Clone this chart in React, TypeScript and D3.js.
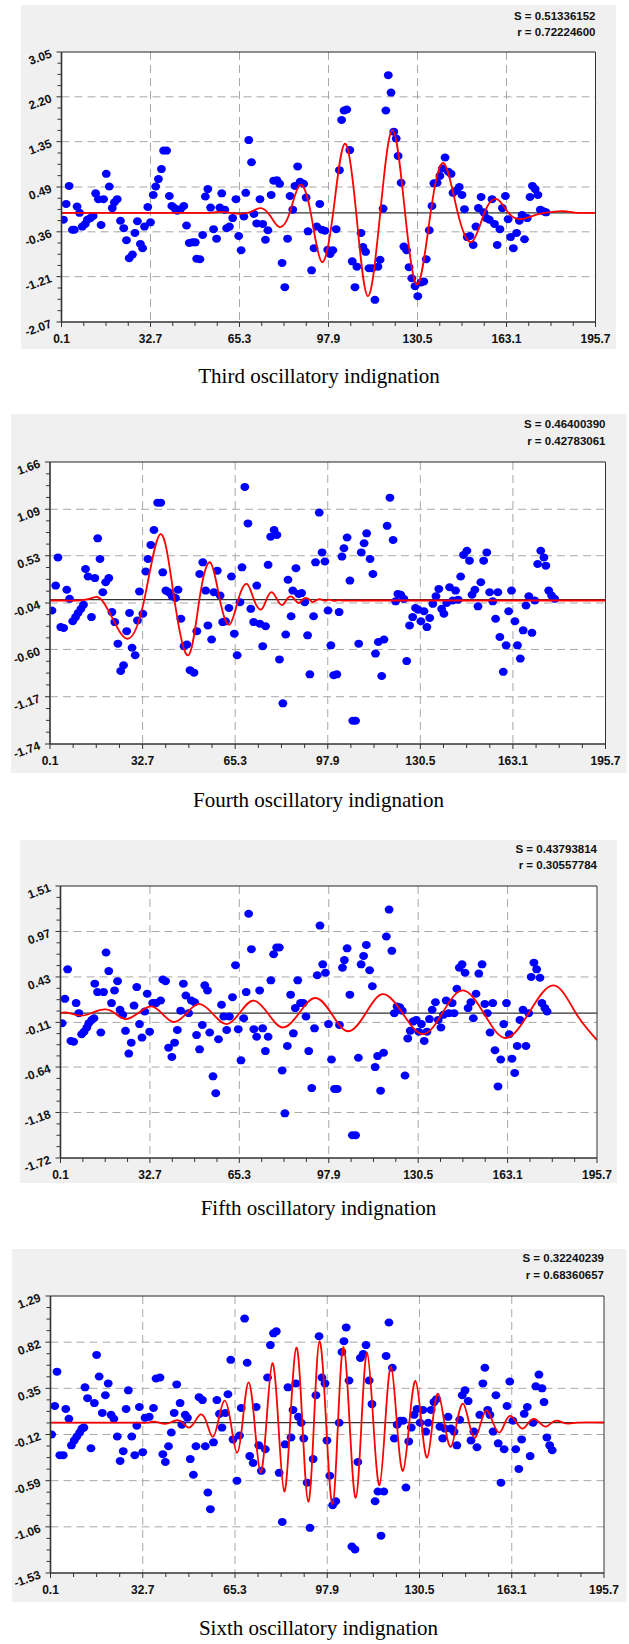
import React from "react";
import * as d3 from "d3";

type Pt = [number, number];

const X_TICKS = ["0.1", "32.7", "65.3", "97.9", "130.5", "163.1", "195.7"];

// ---------- Panel 1 : Third oscillatory indignation ----------
const P1_CAPTION = "Third oscillatory indignation";
const P1_S = "0.51336152";
const P1_R = "0.72224600";
const P1_YTICKS = ["3.05", "2.20", "1.35", "0.49", "-0.36", "-1.21", "-2.07"];
const P1_POINTS: Pt[] = [
  [0.8,-0.13],[1.8,0.17],[2.9,0.51],[4.1,-0.32],[4.8,-0.32],[5.8,0.12],[6.7,0.0],[7.7,-0.26],[8.8,-0.21],[9.6,-0.13],
  [10.7,-0.10],[11.7,-0.06],[12.6,0.37],[13.6,0.26],[14.6,-0.23],[15.5,0.26],[16.5,0.74],[17.6,0.50],[18.7,0.09],[19.5,0.20],
  [20.5,0.26],[21.7,-0.15],[22.9,-0.29],[23.9,-0.52],[24.9,-0.86],[26.1,-0.79],[27.0,-0.38],[27.9,-0.16],[29.0,-0.59],[29.8,-0.67],
  [30.5,-0.26],[31.7,0.11],[32.7,-0.18],[33.7,0.34],[34.6,0.50],[35.6,0.64],[36.7,0.83],[37.5,1.18],[38.6,1.18],[39.6,0.32],
  [40.5,0.13],[41.5,0.09],[42.5,0.04],[43.7,0.07],[44.9,0.13],[45.9,-0.24],[46.9,-0.57],[48.1,-0.56],[49.1,-0.56],[49.6,-0.87],
  [50.8,-0.88],[51.8,-0.42],[52.8,0.31],[53.7,0.45],[54.7,0.10],[55.8,-0.31],[56.9,-0.49],[58.1,0.10],[58.8,0.37],[59.9,0.06],
  [60.6,-0.29],[61.6,-0.26],[62.8,-0.10],[64.0,0.26],[65.0,-0.44],[65.9,-0.71],[66.9,-0.07],[67.6,0.38],[68.7,1.38],[69.7,0.96],
  [70.6,-0.02],[71.6,-0.20],[72.8,0.26],[73.8,-0.21],[74.8,-0.51],[75.7,-0.33],[76.9,0.34],[77.8,0.61],[79.0,0.62],[80.0,0.55],
  [80.9,-0.95],[81.9,-1.41],[82.9,-0.49],[83.8,0.32],[84.8,0.06],[85.6,0.51],[86.6,0.88],[87.5,0.59],[88.8,0.55],[89.7,0.29],
  [90.4,-0.35],[91.7,-1.09],[92.6,-0.67],[93.6,-0.26],[94.7,0.17],[95.5,-0.32],[96.6,-0.34],[97.6,-0.70],[98.5,-0.78],[99.5,-0.71],
  [100.7,-0.31],[101.9,0.81],[102.7,1.76],[103.6,1.94],[104.6,1.96],[105.7,1.19],[106.6,-0.92],[107.6,-1.41],[108.3,-1.02],[109.8,-0.38],
  [110.5,-0.65],[111.5,-0.74],[112.7,-1.05],[113.9,-1.05],[114.9,-1.65],[116.0,-1.02],[116.8,-0.89],[117.9,0.08],[118.9,1.94],[119.8,2.61],
  [120.8,2.28],[121.8,1.54],[122.7,1.41],[123.4,1.08],[124.5,0.57],[125.5,-0.64],[126.5,-0.71],[127.4,-1.03],[128.4,-1.24],[129.6,-1.39],
  [130.6,-1.58],[131.8,-1.32],[132.8,-1.30],[133.7,-0.88],[134.8,-0.33],[135.8,0.13],[136.5,0.56],[137.7,0.57],[138.7,0.70],[139.6,0.84],
  [140.6,1.05],[141.8,0.78],[142.8,0.74],[143.5,0.38],[144.7,0.42],[145.8,0.49],[146.8,0.34],[147.7,0.07],[148.7,-0.46],[149.7,-0.44],
  [150.9,-0.61],[151.9,-0.26],[152.8,0.09],[153.8,0.30],[154.8,0.01],[155.7,-0.10],[156.8,-0.13],[157.8,0.26],[158.7,-0.21],[159.7,-0.61],
  [160.7,-0.31],[161.6,0.09],[162.7,0.32],[163.7,-0.12],[164.6,-0.46],[165.6,-0.67],[166.8,-0.38],[167.8,-0.15],[168.8,-0.04],[169.7,-0.50],
  [170.7,-0.10],[171.7,0.30],[172.6,0.51],[173.6,0.45],[174.6,0.34],[175.5,0.06],[176.6,0.03],[177.6,0.01]
];
const P1_CURVE: Pt[] = [
  [0.1,0],[15,0],[30,0],[45,0],[52,0],[55.5,0.005],[58.5,0.02],[62,0],[65.5,-0.02],[69.5,0.02],[73.1,0.09],[76.6,-0.06],
  [80.0,-0.27],[83.7,0.0],[87.4,0.53],[91.4,0.0],[95.4,-0.93],[99.6,0.0],[103.8,1.31],[108.05,0.0],[112.3,-1.58],[116.85,0.0],
  [121.4,1.57],[125.95,0.0],[130.5,-1.36],[135.3,0.0],[140.1,0.94],[145.25,0.0],[150.4,-0.55],[155.0,0.0],[159.6,0.26],[163.8,0.0],
  [168.0,-0.12],[172,-0.07],[176,-0.01],[180,0.02],[184,0.03],[188,0.005],[192,0],[195.7,0]
];

// ---------- Panel 2 : Fourth oscillatory indignation ----------
const P2_CAPTION = "Fourth oscillatory indignation";
const P2_S = "0.46400390";
const P2_R = "0.42783061";
const P2_YTICKS = ["1.66", "1.09", "0.53", "-0.04", "-0.60", "-1.17", "-1.74"];
const P2_POINTS: Pt[] = [
  [0.8,-0.13],[2.1,0.17],[2.9,0.51],[3.9,-0.33],[4.9,-0.34],[6.0,0.12],[7.0,0.01],[8.1,-0.26],[9.1,-0.21],[10.0,-0.16],
  [11.0,-0.11],[11.9,-0.06],[12.6,0.37],[13.5,0.28],[14.7,-0.21],[15.9,0.26],[16.9,0.74],[17.7,0.49],[18.7,0.09],[19.7,0.21],
  [20.8,0.26],[21.9,-0.15],[22.9,-0.27],[24.0,-0.53],[25.0,-0.86],[26.0,-0.79],[27.1,-0.38],[28.1,-0.16],[29.0,-0.58],[30.1,-0.67],
  [30.9,-0.25],[31.6,0.10],[32.8,-0.17],[33.8,0.34],[34.6,0.49],[35.6,0.66],[36.7,0.84],[38.0,1.17],[39.1,1.17],[39.8,0.33],
  [40.9,0.11],[41.9,0.09],[43.1,0.04],[44.3,0.02],[45.2,0.12],[46.2,-0.23],[47.3,-0.56],[48.3,-0.54],[49.4,-0.85],[50.8,-0.88],
  [51.8,-0.38],[52.8,0.31],[53.9,0.45],[54.9,0.11],[55.7,-0.31],[57.0,-0.48],[57.8,0.09],[59.0,0.35],[60.0,0.05],[60.9,-0.27],
  [61.9,-0.26],[63.1,-0.10],[64.0,0.28],[65.0,-0.41],[66.0,-0.67],[67.0,-0.03],[67.7,0.39],[68.7,1.36],[69.8,0.92],[70.8,-0.11],
  [71.8,-0.27],[72.9,0.17],[74.0,-0.29],[75.0,-0.56],[76.0,-0.32],[76.9,0.42],[77.8,0.76],[79.0,0.84],[80.0,0.78],[80.9,-0.72],
  [82.1,-1.25],[83.1,-0.42],[83.9,0.24],[85.0,-0.20],[85.6,0.11],[86.7,0.38],[87.7,0.07],[88.7,0.08],[89.8,-0.03],[90.8,-0.43],
  [91.6,-0.90],[92.9,-0.20],[93.6,0.45],[94.9,1.05],[95.9,0.57],[96.9,0.46],[98.0,-0.13],[99.0,-0.55],[100.0,-0.91],[101.1,-0.90],
  [101.9,-0.15],[102.9,0.52],[103.6,0.62],[104.7,0.75],[105.7,0.23],[106.7,-1.46],[107.7,-1.46],[108.8,-0.53],[109.7,0.57],[110.7,0.68],
  [111.6,0.80],[112.8,0.49],[113.8,0.31],[114.7,-0.65],[115.7,-0.51],[116.9,-0.92],[117.7,-0.48],[118.8,0.89],[119.8,1.23],[120.9,0.72],
  [121.8,-0.02],[122.6,0.07],[123.6,0.06],[124.7,0.01],[125.7,-0.74],[126.7,-0.31],[127.8,-0.21],[128.8,-0.10],[129.7,-0.12],[130.7,-0.26],
  [131.8,-0.14],[132.8,-0.33],[133.8,-0.22],[134.9,-0.05],[136.0,0.04],[137.0,0.13],[138.0,-0.11],[138.8,-0.17],[139.8,-0.04],[140.8,0.15],
  [141.9,-0.01],[142.9,0.11],[143.8,0.0],[144.7,0.28],[145.7,0.54],[146.9,0.59],[147.8,0.47],[148.7,0.06],[149.7,0.12],[150.8,-0.08],
  [151.8,0.21],[152.8,0.47],[153.9,0.57],[154.9,0.09],[156.0,-0.02],[157.0,-0.23],[157.8,0.09],[158.5,-0.45],[159.7,-0.87],[160.7,-0.55],
  [161.6,-0.14],[162.6,0.11],[163.8,-0.26],[164.7,-0.55],[165.7,-0.71],[166.7,-0.37],[167.7,-0.07],[168.7,0.04],[169.8,-0.40],[170.8,-0.01],
  [171.8,0.43],[172.9,0.59],[174.0,0.51],[174.7,0.41],[175.7,0.11],[176.7,0.05],[177.8,0.01]
];
const P2_CURVE: Pt[] = [
  [0.1,-0.01],[5,-0.01],[10,-0.01],[12.6,0.0],[15.3,0.025],[18.2,0.0],[22.5,-0.25],[27.7,-0.47],[33.3,0.0],[39.0,0.79],
  [43.9,0.0],[48.8,-0.67],[52.7,0.0],[56.5,0.45],[59.9,0.0],[63.3,-0.30],[66.4,0.0],[69.4,0.19],[71.9,0.0],[74.4,-0.12],
  [76.3,0.0],[78.2,0.09],[80.1,0.0],[81.9,-0.065],[83.4,0.0],[84.9,0.04],[86.3,0.0],[87.7,-0.04],[89.0,0.0],[90.3,0.02],
  [91.5,0.0],[92.6,-0.03],[94,-0.005],[95.5,0.005],[97,-0.015],[98.5,0.0],[100,-0.015],[101.5,-0.005],[103,-0.01],[110,-0.01],
  [120,-0.01],[135,-0.01],[150,-0.01],[165,-0.01],[180,-0.01],[195.7,-0.01]
];

// ---------- Panel 3 : Fifth oscillatory indignation ----------
const P3_CAPTION = "Fifth oscillatory indignation";
const P3_S = "0.43793814";
const P3_R = "0.30557784";
const P3_YTICKS = ["1.51", "0.97", "0.43", "-0.11", "-0.64", "-1.18", "-1.72"];
const P3_POINTS: Pt[] = [
  [0.7,-0.12],[1.7,0.17],[2.7,0.52],[3.9,-0.33],[4.9,-0.34],[5.8,0.12],[6.8,0.0],[7.8,-0.25],[8.7,-0.22],[9.7,-0.17],
  [10.4,-0.12],[11.5,-0.08],[12.3,-0.06],[12.6,0.35],[13.6,0.25],[14.8,-0.23],[15.8,0.25],[16.7,0.72],[17.7,0.50],[18.7,0.12],
  [19.8,0.27],[20.9,0.38],[21.8,0.04],[22.8,-0.02],[23.8,-0.21],[25.0,-0.48],[25.9,-0.35],[26.9,0.09],[27.9,0.31],[28.9,-0.13],
  [29.8,-0.29],[30.8,0.02],[31.7,0.23],[32.6,-0.22],[33.7,0.12],[34.9,0.12],[36.6,0.15],[37.4,0.40],[38.4,0.38],[39.5,-0.41],
  [40.7,-0.52],[41.7,-0.35],[42.7,-0.20],[43.9,0.03],[44.9,0.35],[45.8,0.21],[46.8,0.0],[47.8,0.15],[49.0,0.13],[49.7,-0.26],
  [50.8,-0.43],[51.8,-0.14],[52.7,0.33],[53.7,0.27],[54.5,-0.23],[55.7,-0.75],[56.7,-0.95],[57.7,-0.31],[58.8,0.10],[59.6,-0.04],
  [60.7,-0.20],[61.7,-0.04],[62.8,0.19],[63.9,0.57],[64.9,-0.19],[65.9,-0.56],[66.9,-0.06],[67.8,0.25],[68.7,1.18],[69.7,0.76],
  [70.6,-0.19],[71.6,-0.28],[72.7,0.27],[73.8,-0.18],[74.8,-0.45],[75.8,-0.28],[76.8,0.39],[77.8,0.70],[78.9,0.78],[79.9,0.78],
  [80.9,-0.68],[81.9,-1.19],[82.8,-0.39],[84.0,0.22],[85.0,-0.24],[85.7,0.06],[86.6,0.39],[87.6,0.12],[88.6,0.12],[89.6,-0.04],
  [90.6,-0.45],[91.7,-0.89],[92.7,-0.18],[93.7,0.45],[94.7,1.04],[95.7,0.58],[96.7,0.48],[97.8,-0.13],[98.9,-0.55],[100.0,-0.90],
  [101.0,-0.90],[101.8,-0.14],[102.9,0.54],[103.6,0.63],[104.6,0.77],[105.6,0.22],[106.5,-1.45],[107.7,-1.45],[108.7,-0.53],[109.7,0.58],
  [110.6,0.68],[111.6,0.81],[112.8,0.51],[113.8,0.32],[114.8,-0.64],[115.7,-0.51],[116.8,-0.92],[117.9,-0.47],[118.9,0.91],[119.9,1.23],
  [120.9,0.74],[121.8,0.0],[122.8,0.08],[123.8,0.07],[124.7,0.03],[125.7,-0.74],[126.7,-0.30],[127.6,-0.21],[128.6,-0.10],[129.8,-0.08],
  [130.7,-0.22],[131.7,-0.13],[132.7,-0.33],[133.7,-0.22],[134.6,-0.07],[135.6,0.04],[136.8,0.13],[137.8,-0.08],[138.8,-0.17],[139.7,-0.02],
  [140.7,0.15],[141.7,0.0],[142.9,0.12],[143.6,0.0],[144.6,0.29],[145.5,0.54],[146.5,0.58],[147.6,0.48],[148.7,0.06],[149.7,0.13],
  [150.6,-0.06],[151.6,0.23],[152.6,0.47],[153.8,0.58],[154.8,0.11],[155.7,0.0],[156.7,-0.23],[157.7,0.12],[158.5,-0.44],[159.6,-0.87],
  [160.6,-0.55],[161.7,-0.13],[162.7,0.12],[163.7,-0.25],[164.7,-0.54],[165.7,-0.71],[166.6,-0.39],[167.6,-0.08],[168.7,0.04],[169.8,-0.39],
  [170.8,0.0],[171.7,0.43],[172.7,0.60],[173.7,0.52],[174.9,0.42],[175.6,0.12],[176.7,0.06],[177.5,0.02]
];
const P3_CURVE: Pt[] = [
  [0.1,0.0],[2.5,0.005],[7.5,-0.03],[12,0.01],[16.6,0.045],[20.3,-0.01],[24,-0.07],[28.6,0.005],[33.2,0.08],[37.3,-0.01],
  [41.5,-0.105],[46.1,0.0],[50.7,0.11],[55.7,-0.01],[60.7,-0.13],[65.6,0.01],[70.5,0.15],[75.9,-0.01],[81.3,-0.17],[87.2,0.005],
  [93.1,0.18],[99.1,-0.015],[105.1,-0.215],[111.5,0.005],[117.8,0.225],[125,-0.01],[132.3,-0.25],[139.5,0.01],[146.8,0.27],[154.6,-0.01],
  [162.5,-0.295],[171.2,0.02],[180.0,0.33],[188,0.0],[195.7,-0.32]
];

// ---------- Panel 4 : Sixth oscillatory indignation ----------
const P4_CAPTION = "Sixth oscillatory indignation";
const P4_S = "0.32240239";
const P4_R = "0.68360657";
const P4_YTICKS = ["1.29", "0.82", "0.35", "-0.12", "-0.59", "-1.06", "-1.53"];
const P4_POINTS: Pt[] = [
  [0.5,-0.12],[1.6,0.17],[2.4,0.52],[3.4,-0.33],[4.6,-0.33],[5.5,0.14],[6.6,0.04],[7.5,-0.23],[8.5,-0.18],[9.4,-0.14],
  [10.4,-0.10],[11.2,-0.06],[11.9,-0.05],[12.3,0.36],[13.2,0.25],[14.4,-0.26],[15.6,0.20],[16.4,0.69],[17.3,0.47],[18.4,0.10],
  [19.5,0.28],[20.5,0.40],[21.5,0.08],[22.5,0.04],[23.7,-0.14],[24.7,-0.39],[25.8,-0.29],[26.8,0.14],[27.6,0.33],[28.8,-0.14],
  [29.9,-0.33],[30.6,-0.03],[31.5,0.16],[32.7,-0.30],[33.5,0.05],[35.0,0.06],[36.5,0.15],[37.4,0.45],[38.8,0.46],[39.8,-0.32],
  [40.7,-0.40],[41.8,-0.24],[42.8,-0.10],[43.8,0.10],[44.7,0.39],[45.9,0.20],[46.5,-0.02],[47.7,0.08],[48.5,0.05],[49.5,-0.37],
  [50.6,-0.53],[51.5,-0.24],[52.6,0.26],[53.8,0.23],[54.8,-0.24],[55.7,-0.71],[56.6,-0.88],[57.7,-0.20],[58.9,0.23],[59.8,0.09],
  [60.7,-0.05],[61.9,0.10],[62.8,0.29],[63.8,0.64],[64.6,-0.17],[66.0,-0.59],[66.9,-0.13],[67.5,0.15],[68.7,1.06],[69.6,0.61],
  [70.5,-0.34],[71.7,-0.41],[72.8,0.16],[73.7,-0.23],[74.6,-0.49],[76.0,-0.27],[76.8,0.46],[77.8,0.79],[78.9,0.91],[79.9,0.93],
  [80.9,-0.51],[82.0,-1.01],[83.0,-0.22],[84.0,0.36],[85.1,-0.15],[85.8,0.13],[86.8,0.40],[87.7,0.06],[88.7,0.0],[89.6,-0.16],
  [90.8,-0.61],[91.8,-1.07],[92.9,-0.37],[93.9,0.28],[95.0,0.88],[96.0,0.46],[97.1,0.40],[97.8,-0.18],[98.8,-0.54],[99.8,-0.84],
  [100.9,-0.80],[102.1,0.0],[103.1,0.72],[103.8,0.83],[104.6,0.97],[105.6,0.43],[106.6,-1.26],[107.7,-1.29],[108.7,-0.40],[109.6,0.66],
  [110.6,0.70],[111.6,0.79],[112.7,0.43],[113.7,0.19],[114.8,-0.80],[115.8,-0.70],[116.9,-1.15],[117.9,-0.70],[118.7,0.68],[119.7,1.02],
  [120.9,0.56],[121.6,-0.16],[122.6,-0.02],[123.7,0.02],[124.7,0.02],[125.7,-0.66],[126.7,-0.19],[127.6,-0.05],[128.6,0.08],[129.6,0.14],
  [130.7,0.0],[131.7,0.13],[132.7,-0.09],[133.6,0.0],[134.6,0.13],[135.6,0.21],[136.5,0.24],[137.7,-0.04],[138.7,-0.16],[139.5,-0.06],
  [140.6,0.06],[141.6,-0.06],[142.7,-0.09],[143.7,-0.23],[144.7,0.03],[145.6,0.28],[146.6,0.33],[147.7,0.22],[148.7,-0.18],[149.7,-0.09],
  [150.8,-0.25],[151.8,0.08],[152.9,0.40],[153.6,0.56],[154.6,0.13],[155.4,0.08],[156.5,-0.09],[157.5,0.28],[158.3,-0.21],[159.3,-0.61],
  [160.4,-0.27],[161.4,0.17],[162.4,0.42],[163.5,0.02],[164.5,-0.27],[165.6,-0.47],[166.6,-0.17],[167.5,0.09],[168.6,0.16],[169.6,-0.34],
  [170.6,0.0],[171.6,0.37],[172.7,0.49],[173.8,0.35],[174.5,0.21],[175.5,-0.15],[176.5,-0.23],[177.4,-0.28]
];
const P4_CURVE: Pt[] = [
  [0.1,0],[10,0],[20,0],[28,0],[32,0],[34.2,0.0],[36.3,0.01],[38.5,0.0],[40.6,-0.012],[42.7,0.005],[44.7,0.025],[46.8,0.0],
  [48.9,-0.05],[51.1,0.01],[53.2,0.085],[55.3,0.0],[57.4,-0.145],[59.5,0.03],[61.6,0.225],[63.8,0.0],[66.0,-0.305],[68.1,0.04],
  [70.1,0.41],[72.2,0.0],[74.3,-0.505],[76.4,0.0],[78.5,0.605],[80.6,0.0],[82.7,-0.70],[84.8,0.0],[87.0,0.765],[89.1,0.0],
  [91.2,-0.805],[93.2,0.0],[95.2,0.83],[97.5,0.0],[99.75,-0.83],[101.7,0.0],[103.65,0.77],[105.8,0.0],[107.95,-0.765],[110.0,0.0],
  [112.0,0.71],[114.2,0.0],[116.35,-0.635],[118.4,0.0],[120.45,0.57],[122.5,0.0],[124.65,-0.49],[126.9,0.0],[129.1,0.425],[131.2,0.0],
  [133.2,-0.355],[135.1,0.0],[137.1,0.295],[139.3,0.0],[141.55,-0.245],[143.7,0.0],[145.9,0.195],[148.0,0.0],[150.1,-0.155],[152.2,0.0],
  [154.25,0.125],[156.5,0.0],[158.75,-0.10],[160.7,0.0],[162.65,0.07],[164.8,0.0],[167.0,-0.06],[169,0.0],[171.0,0.04],[173.0,0.0],
  [175.1,-0.04],[177.2,0.0],[179.3,0.02],[181.3,0.0],[183.3,-0.01],[186,0.0],[190,0.004],[195.7,0.002]
];

const SERIES = [
  { caption: P1_CAPTION, s: P1_S, r: P1_R, yTicks: P1_YTICKS, points: P1_POINTS, curve: P1_CURVE },
  { caption: P2_CAPTION, s: P2_S, r: P2_R, yTicks: P2_YTICKS, points: P2_POINTS, curve: P2_CURVE },
  { caption: P3_CAPTION, s: P3_S, r: P3_R, yTicks: P3_YTICKS, points: P3_POINTS, curve: P3_CURVE },
  { caption: P4_CAPTION, s: P4_S, r: P4_R, yTicks: P4_YTICKS, points: P4_POINTS, curve: P4_CURVE },
];

// layout (pixel geometry of each panel)
const FRAMES = [
  { bg: [21, 5, 595, 344], plot: [61.5, 52, 595.5, 322], sY: 20, rY: 36, capY: 383, capX: 319 },
  { bg: [11, 414, 615.5, 359], plot: [50, 462, 605.5, 744], sY: 428, rY: 445, capY: 807, capX: 318.5 },
  { bg: [20, 840, 597, 343], plot: [60.5, 886, 597, 1158], sY: 853, rY: 869, capY: 1215, capX: 318.5 },
  { bg: [12, 1249, 614.5, 353], plot: [50.5, 1296, 604, 1573], sY: 1262, rY: 1279, capY: 1635, capX: 318.5 },
];

const LABEL_FONT = "'Liberation Sans', Arial, Helvetica, sans-serif";
const CAPTION_FONT = "'Liberation Serif', 'Times New Roman', Times, serif";

function Panel({ series, frame, idx }: { series: typeof SERIES[number]; frame: typeof FRAMES[number]; idx: number }) {
  const [l, t, r, b] = frame.plot;
  const xVals = X_TICKS.map(Number);
  const yVals = series.yTicks.map(Number);
  const x = d3.scaleLinear().domain([xVals[0], xVals[xVals.length - 1]]).range([l, r]);
  const y = d3.scaleLinear().domain([yVals[yVals.length - 1], yVals[0]]).range([b, t]);
  const line = d3
    .line<Pt>()
    .x((d) => x(d[0]))
    .y((d) => y(d[1]))
    .curve(d3.curveNatural);

  const xMinor: number[] = [];
  for (let i = 0; i < xVals.length - 1; i++)
    for (let k = 1; k < 4; k++) xMinor.push(xVals[i] + ((xVals[i + 1] - xVals[i]) * k) / 4);
  const yMinor: number[] = [];
  for (let i = 0; i < yVals.length - 1; i++)
    for (let k = 1; k < 4; k++) yMinor.push(yVals[i] + ((yVals[i + 1] - yVals[i]) * k) / 4);

  const clipId = `clip-${idx}`;
  const [bx, by, bw, bh] = frame.bg;
  const gridColor = "#a8a8a8";
  return (
    <g>
      <rect x={bx} y={by} width={bw} height={bh} fill="#f0f0f0" />
      <rect x={l} y={t} width={r - l} height={b - t} fill="#ffffff" />
      <defs>
        <clipPath id={clipId}>
          <rect x={l} y={t} width={r - l} height={b - t} />
        </clipPath>
      </defs>
      {yVals.slice(1, -1).map((v, i) => (
        <line key={`gy${i}`} x1={l} x2={r} y1={y(v)} y2={y(v)} stroke={gridColor} strokeWidth={1} strokeDasharray="8,5" />
      ))}
      {xVals.slice(1, -1).map((v, i) => (
        <line key={`gx${i}`} x1={x(v)} x2={x(v)} y1={t} y2={b} stroke={gridColor} strokeWidth={1} strokeDasharray="8,5" />
      ))}
      <line x1={l} x2={r} y1={y(0)} y2={y(0)} stroke="#333333" strokeWidth={1.2} />
      <g clipPath={`url(#${clipId})`}>
        {series.points.map((p, i) => (
          <ellipse key={i} cx={x(p[0])} cy={y(p[1])} rx={4.4} ry={4.0} fill="#0000ff" />
        ))}
        <path d={line(series.curve) || ""} fill="none" stroke="#ff0000" strokeWidth={1.8} />
      </g>
      <line x1={l} x2={r} y1={t} y2={t} stroke="#222" strokeWidth={1} />
      <line x1={r} x2={r} y1={t} y2={b} stroke="#333" strokeWidth={1} />
      <line x1={l} x2={l} y1={t} y2={b} stroke="#333" strokeWidth={1.6} />
      <line x1={l} x2={r} y1={b} y2={b} stroke="#333" strokeWidth={1.6} />
      {yVals.map((v, i) => (
        <line key={`ty${i}`} x1={l - 5} x2={l} y1={y(v)} y2={y(v)} stroke="#333" strokeWidth={1} />
      ))}
      {yMinor.map((v, i) => (
        <line key={`tym${i}`} x1={l - 4} x2={l} y1={y(v)} y2={y(v)} stroke="#333" strokeWidth={1} />
      ))}
      {xVals.map((v, i) => (
        <line key={`tx${i}`} x1={x(v)} x2={x(v)} y1={b} y2={b + 5} stroke="#333" strokeWidth={1} />
      ))}
      {xMinor.map((v, i) => (
        <line key={`txm${i}`} x1={x(v)} x2={x(v)} y1={b} y2={b + 4} stroke="#333" strokeWidth={1} />
      ))}
      {X_TICKS.map((s, i) => (
        <text key={`lx${i}`} x={x(xVals[i])} y={b + 21} textAnchor="middle" fontFamily={LABEL_FONT} fontWeight="bold" fontSize={12} fill="#111">
          {s}
        </text>
      ))}
      {series.yTicks.map((s, i) => (
        <text
          key={`ly${i}`}
          transform={`translate(${l - 9},${y(yVals[i]) + 5}) rotate(-20)`}
          textAnchor="end"
          fontFamily={LABEL_FONT}
          fontWeight="bold"
          fontSize={12}
          fill="#111"
        >
          {s}
        </text>
      ))}
      <text x={r} y={frame.sY} textAnchor="end" fontFamily={LABEL_FONT} fontWeight="bold" fontSize={11.5} fill="#111">
        {`S = ${series.s}`}
      </text>
      <text x={r} y={frame.rY} textAnchor="end" fontFamily={LABEL_FONT} fontWeight="bold" fontSize={11.5} fill="#111">
        {`r = ${series.r}`}
      </text>
      <text x={frame.capX} y={frame.capY} textAnchor="middle" fontFamily={CAPTION_FONT} fontSize={21} fill="#000">
        {series.caption}
      </text>
    </g>
  );
}

export default function App() {
  return (
    <svg
      width={629}
      height={1644}
      viewBox="0 0 629 1644"
      style={{ position: "absolute", left: 0, top: 0, background: "#ffffff" }}
    >
      <rect x={0} y={0} width={629} height={1644} fill="#ffffff" />
      {SERIES.map((s, i) => (
        <Panel key={i} series={s} frame={FRAMES[i]} idx={i} />
      ))}
    </svg>
  );
}
